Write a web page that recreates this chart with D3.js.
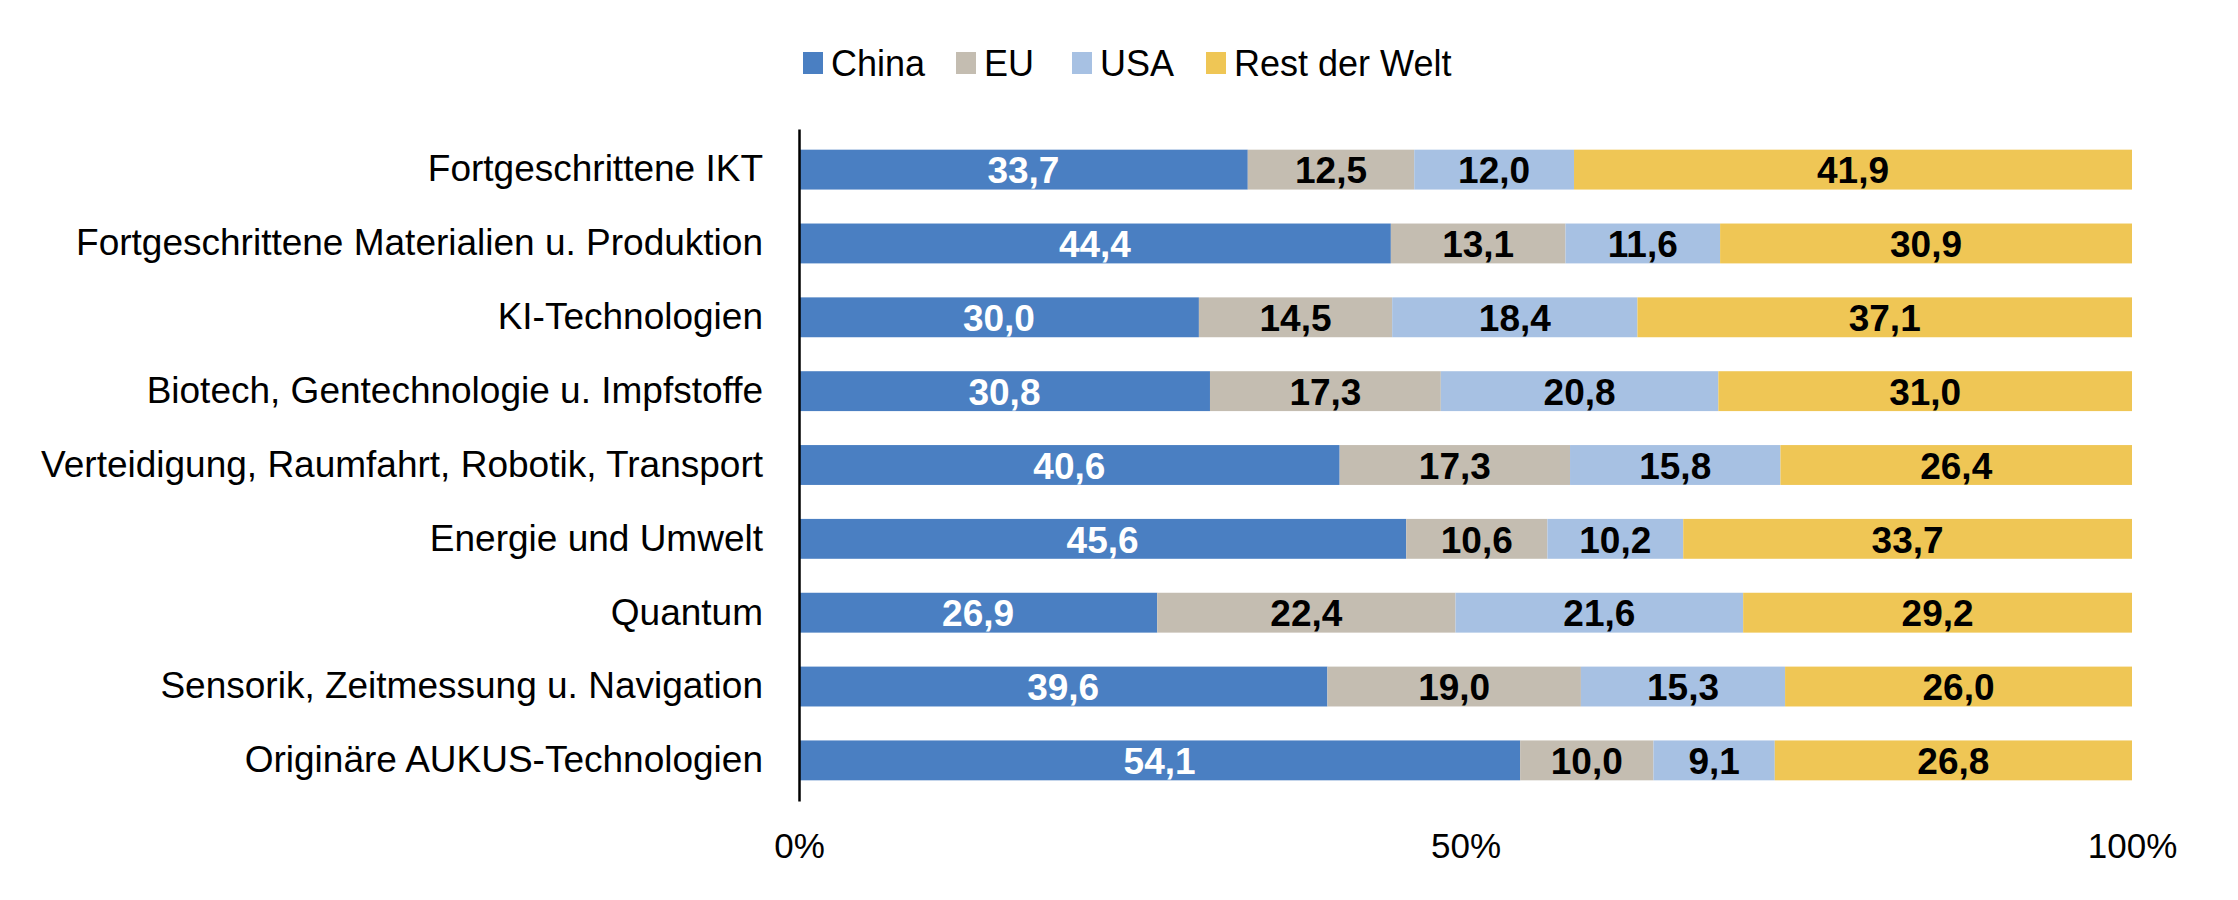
<!DOCTYPE html>
<html>
<head>
<meta charset="utf-8">
<script src="https://cdn.jsdelivr.net/npm/d3@7/dist/d3.min.js"></script>
<style>
  body { margin: 0; background: #fff; }
  svg { display: block; }
  text { font-family: "Liberation Sans", Arial, sans-serif; }
</style>
</head>
<body>
<svg id="chart" width="2238" height="900"></svg>
<script>
// categories (top to bottom)
var categories = [
  "Fortgeschrittene IKT",
  "Fortgeschrittene Materialien u. Produktion",
  "KI-Technologien",
  "Biotech, Gentechnologie u. Impfstoffe",
  "Verteidigung, Raumfahrt, Robotik, Transport",
  "Energie und Umwelt",
  "Quantum",
  "Sensorik, Zeitmessung u. Navigation",
  "Originäre AUKUS-Technologien"
]
var seriesNames = ["China", "EU", "USA", "Rest der Welt"]
var china = [33.7, 44.4, 30.0, 30.8, 40.6, 45.6, 26.9, 39.6, 54.1]
var eu    = [12.5, 13.1, 14.5, 17.3, 17.3, 10.6, 22.4, 19.0, 10.0]
var usa   = [12.0, 11.6, 18.4, 20.8, 15.8, 10.2, 21.6, 15.3, 9.1]
var rest  = [41.9, 30.9, 37.1, 31.0, 26.4, 33.7, 29.2, 26.0, 26.8]
var tickValues = [0, 50, 100]
var tickLabels = ["0%", "50%", "100%"]

var colors = ["#4a7fc2", "#c4bdb1", "#a7c1e3", "#efc655"]
var labelColors = ["#ffffff", "#000000", "#000000", "#000000"]

var svg = d3.select("#chart")
var margin = {left: 799, right: 106, top: 129, bottom: 99}
var width = 2238 - margin.left - margin.right
var height = 900 - margin.top - margin.bottom

// build rows for the stack, normalised to 100%
var rows = categories.map(function(c, i){
  var vals = [china[i], eu[i], usa[i], rest[i]]
  var total = d3.sum(vals)
  var r = {cat: c, total: total}
  seriesNames.forEach(function(s, j){ r[s] = vals[j] })
  return r
})

var stack = d3.stack().keys(seriesNames)
  .value(function(d, key){ return d[key] / d.total * 100 })
var stacked = stack(rows)

var x = d3.scaleLinear().domain([0, 100]).range([0, width])
var y = d3.scaleBand().domain(categories).range([0, height]).paddingInner(0.46).paddingOuter(0.28)

var g = svg.append("g").attr("transform", "translate(" + margin.left + "," + margin.top + ")")

// bars
var layers = g.selectAll(".layer")
  .data(stacked)
  .enter().append("g")
  .attr("class", "layer")
  .attr("fill", function(d, i){ return colors[i] })

layers.selectAll("rect")
  .data(function(d){ return d })
  .enter().append("rect")
    .attr("x", function(d){ return x(d[0]) })
    .attr("y", function(d){ return y(d.data.cat) })
    .attr("width", function(d){ return x(d[1]) - x(d[0]) })
    .attr("height", y.bandwidth())

// value labels
stacked.forEach(function(layer, i){
  g.append("g").selectAll("text")
    .data(layer)
    .enter().append("text")
      .attr("x", function(d){ return (x(d[0]) + x(d[1])) / 2 })
      .attr("y", function(d){ return y(d.data.cat) + y.bandwidth() / 2 })
      .attr("dy", "0.37em")
      .attr("text-anchor", "middle")
      .style("font-size", "37px")
      .style("font-weight", "bold")
      .style("fill", labelColors[i])
      .text(function(d){ return d3.format(".1f")(d.data[layer.key]).replace(".", ",") })
})

// y axis (category labels + line)
var yAxis = g.append("g").call(d3.axisLeft(y).tickSize(0).tickPadding(36))
yAxis.select(".domain").attr("stroke", "#000").attr("stroke-width", 2.5)
yAxis.selectAll("text").style("font-size", "37px").style("fill", "#000")
  .style("font-family", "'Liberation Sans', Arial, sans-serif")

// x axis tick labels
var xAxis = g.append("g")
  .attr("transform", "translate(0," + height + ")")
  .call(d3.axisBottom(x).tickValues(tickValues).tickFormat(function(d, i){ return tickLabels[i] }).tickSize(0).tickPadding(32))
xAxis.select(".domain").remove()
xAxis.selectAll("text").style("font-size", "35px").style("fill", "#000")
  .style("font-family", "'Liberation Sans', Arial, sans-serif")

// legend
var legendX = [803, 956, 1072, 1206]
var legend = svg.append("g").selectAll("g")
  .data(seriesNames)
  .enter().append("g")
  .attr("transform", function(d, i){ return "translate(" + legendX[i] + ",52)" })
legend.append("rect").attr("width", 20).attr("height", 22).attr("fill", function(d, i){ return colors[i] })
legend.append("text").attr("x", 28).attr("y", 11).attr("dy", "0.36em")
  .style("font-size", "36px").text(function(d){ return d })
</script>
</body>
</html>
